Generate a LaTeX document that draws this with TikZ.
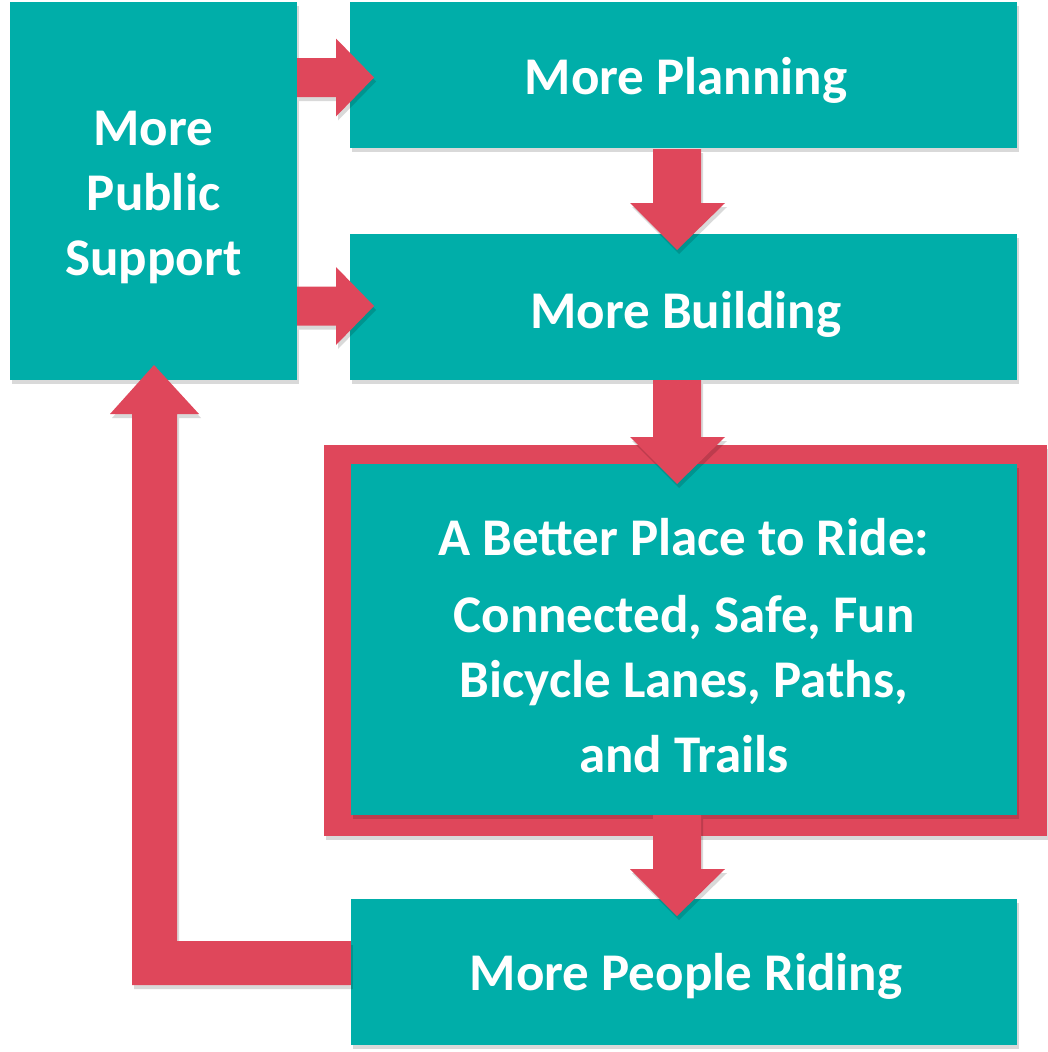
\documentclass[tikz,border=0pt]{standalone}
\usepackage{fontspec}
\setmainfont{Carlito}
\usetikzlibrary{calc,shadows}
\definecolor{tealc}{RGB}{0,174,169}
\definecolor{redc}{RGB}{223,71,91}
\tikzset{
  sh/.style={drop shadow={shadow xshift=2pt,shadow yshift=-4pt,opacity=0.15,fill=black}},
  txt/.style={text=white,font=\bfseries\fontsize{53}{65}\selectfont,align=center},
  box/.style={fill=tealc,draw=none,inner sep=0pt,sh},
  blockarrow/.style={fill=redc,draw=none,sh},
}
\begin{document}
\begin{tikzpicture}[x=1pt,y=-1pt]
\useasboundingbox (0,0) rectangle (1047,1052);
% frame
\node[fill=redc,inner sep=0pt,minimum width=723pt,minimum height=391pt,sh] (frame) at (685.5,640.5) {};
% boxes
\node[box,minimum width=287pt,minimum height=378pt] (support) at (153.5,191) {};
\node[txt] (supporttext) at (153.5,197) {More\\Public\\Support};
\node[box,minimum width=667pt,minimum height=146pt] (planning) at (683.5,75) {};
\node[txt] (planningtext) at (686,80) {More Planning};
\node[box,minimum width=667pt,minimum height=146pt] (building) at (683.5,307) {};
\node[txt] (buildingtext) at (686,314) {More Building};
\node[box,minimum width=666pt,minimum height=351pt] (better) at (684,639.5) {};
\node[txt] (bettertext) at (684,646) {A Better Place to Ride:\\[12pt]Connected, Safe, Fun\\Bicycle Lanes, Paths,\\[10pt]and Trails};
\node[box,minimum width=666pt,minimum height=146pt] (riding) at (684,972) {};
\node[txt] (ridingtext) at (686,976) {More People Riding};
% right arrows
\foreach \yc in {77.5, 306}{
  \fill[blockarrow] (support.east |- 0,\yc-19.5) -- (336,\yc-19.5) -- (336,\yc-39) -- (374,\yc) -- (336,\yc+39) -- (336,\yc+19.5) -- (support.east |- 0,\yc+19.5) -- cycle;
}
% down arrows
\fill[blockarrow] (653,149) -- (653,203) -- (630,203) -- (677,250) -- (725,203) -- (701,203) -- (701,149) -- cycle;
\fill[blockarrow] (653,380) -- (653,437) -- (630,437) -- (677,484) -- (725,437) -- (701,437) -- (701,380) -- cycle;
\fill[blockarrow] (653,815) -- (653,869) -- (630,869) -- (677,916) -- (725,869) -- (701,869) -- (701,815) -- cycle;
% feedback arrow
\fill[blockarrow] (riding.west |- 0,941) -- (177,941) -- (177,414) -- (199,414) -- (154,365) -- (110,414) -- (132,414) -- (132,985) -- (riding.west |- 0,985) -- cycle;
\end{tikzpicture}
\end{document}
